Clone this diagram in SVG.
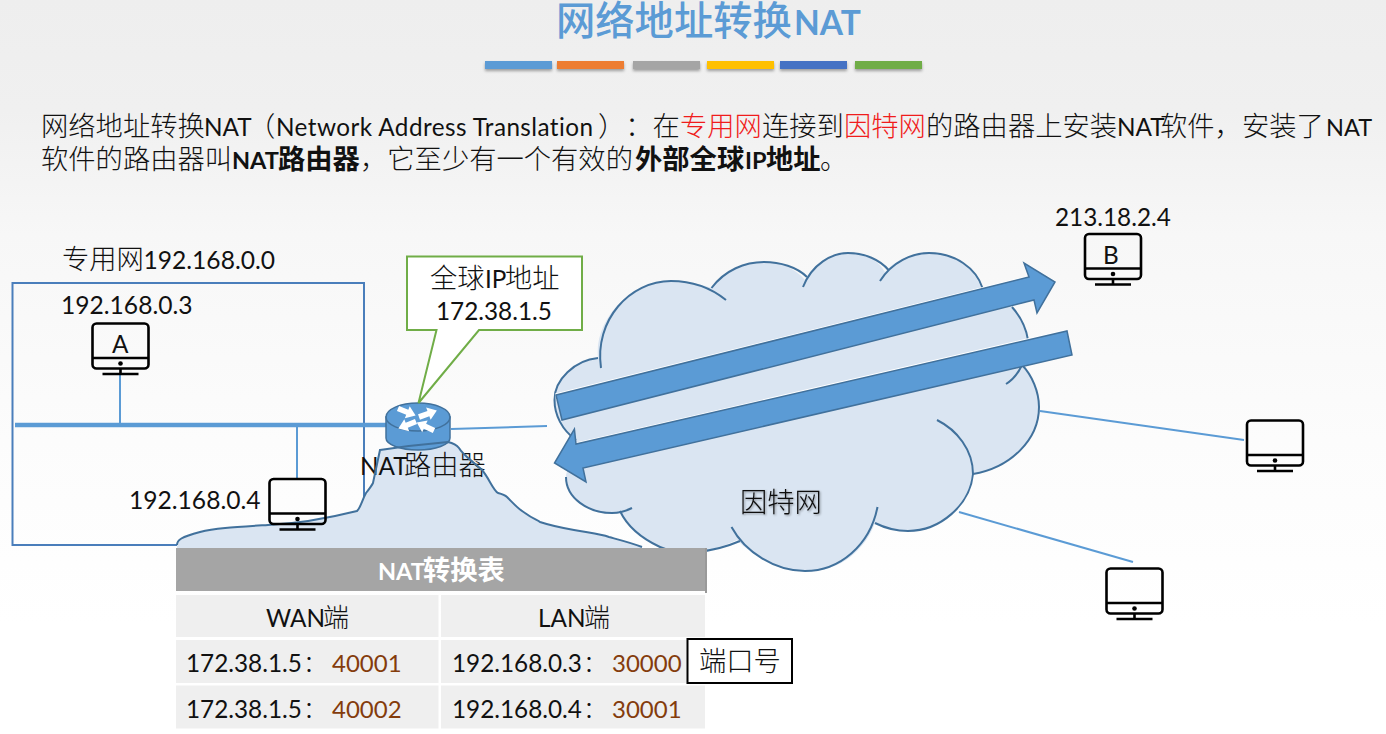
<svg xmlns="http://www.w3.org/2000/svg" xmlns:xlink="http://www.w3.org/1999/xlink" width="1386" height="734" viewBox="0 0 1386 734">
<style>
text{font-family:"Noto Sans CJK SC","Lato",sans-serif;font-size:27.3px;fill:#111;text-spacing-trim:space-all;font-weight:300}
.m{fill:#111;font-family:"Lato",sans-serif;font-size:24.3px;font-weight:400}
.b{font-weight:700}
.m.b{font-size:23.500px;font-weight:700}
.r{fill:#f01c1c}
.p{fill:#843c0c;font-family:"Lato",sans-serif;font-size:24px;font-weight:400}
.bar{filter:url(#sh)}
.wire{stroke:#5b9bd5;fill:none;stroke-width:2}
.cl{fill:none;stroke:#41719c;stroke-width:2}
.hi{fill:#fff}
.arr{fill:#5b9bd5;stroke:#41719c;stroke-width:1.5}
.mon rect,.mon path{fill:none;stroke:#000;stroke-width:2.6}
.cell{fill:#efefef}
</style>
<defs>
<linearGradient id="bg" x1="0" y1="0" x2="0" y2="1">
<stop offset="0" stop-color="#eeeeee"/><stop offset="0.15" stop-color="#f0f0f0"/><stop offset="0.32" stop-color="#f7f7f7"/><stop offset="0.6" stop-color="#fcfcfc"/><stop offset="0.85" stop-color="#ffffff"/>
</linearGradient>
<filter id="sh" x="-10%" y="-50%" width="120%" height="220%"><feDropShadow dx="0" dy="2" stdDeviation="1.5" flood-color="#000" flood-opacity="0.35"/></filter>
<filter id="ts" x="-10%" y="-10%" width="120%" height="120%"><feDropShadow dx="1" dy="1" stdDeviation="0.8" flood-color="#000" flood-opacity="0.4"/></filter>
<g id="mon" class="mon">
<rect x="1" y="1" width="56" height="45" rx="4"/>
<path d="M1,35.5H57M29,46V51M11,51.5H47"/>
<circle cx="29" cy="41" r="2.3" fill="#000"/>
</g>
<path id="ra" d="M0,-2.8H10V-6.5L19,0L10,6.5V2.8H0Z" fill="#fff"/>
<path id="mt" d="M177,545C177,540 181,537 200,532C215,528 235,527 268,525C290,524 325,519 357,511C361,507 362,500 366,493C370,488 372,485 373,483L380,450C400,447 425,444 448,442C453,443 456,444 459,448C463,455 470,459 482,470C489,478 493,490 498,493C502,494 505,495 507,497C513,503 518,509 525,513C533,519 538,520 540,522C552,526 563,528 574,530C590,533 600,534 609,537C620,540 632,543 642,547L642,548L177,548Z"/>
</defs>
<rect id="background" width="1386" height="734" fill="url(#bg)"/>

<g id="title">
<text x="556" y="35" style="font-size:39.3px;fill:#5b9bd5;font-weight:500">网络地址转换<tspan x="794" y="35" style="font-family:Lato,sans-serif;font-weight:700;font-size:33.500px;fill:#5b9bd5">NAT</tspan></text>
<rect class="bar" x="485" y="61" width="67" height="8" fill="#5b9bd5"/>
<rect class="bar" x="557" y="61" width="67" height="8" fill="#ed7d31"/>
<rect class="bar" x="633" y="61" width="67" height="8" fill="#a5a5a5"/>
<rect class="bar" x="707" y="61" width="67" height="8" fill="#ffc000"/>
<rect class="bar" x="780" y="61" width="67" height="8" fill="#4472c4"/>
<rect class="bar" x="855" y="61" width="67" height="8" fill="#70ad47"/>
</g>

<g id="intro">
<text y="135.500"><tspan x="41">网络地址转换</tspan><tspan class="m" x="204">NAT</tspan><tspan x="248">（</tspan><tspan class="m" x="276" style="letter-spacing:.42px">Network Address Translation</tspan><tspan x="598">）：在</tspan><tspan class="r" x="680">专用网</tspan><tspan x="762">连接到</tspan><tspan class="r" x="844">因特网</tspan><tspan x="926">的路由器上安装</tspan><tspan class="m" x="1117">NAT</tspan><tspan x="1160">软件，安装了</tspan><tspan class="m" x="1326" style="font-size:23.500px">NAT</tspan></text>
<text y="169"><tspan x="41">软件的路由器叫</tspan><tspan class="m b" x="232">NAT</tspan><tspan class="b" x="278">路由器</tspan><tspan x="360">，它至少有一个有效的</tspan><tspan class="b" x="635">外部全球</tspan><tspan class="m b" x="745">IP</tspan><tspan class="b" x="766">地址</tspan><tspan x="820">。</tspan></text>
</g>

<g id="private-net">
<rect x="12.500" y="283" width="351.500" height="262" fill="none" stroke="#4a7ebb" stroke-width="2"/>
<text x="62" y="269">专用网<tspan class="m" x="143.500" style="font-size:24.600px">192.168.0.0</tspan></text>
</g>

<g id="connectors">
<path d="M15,425H387" stroke="#5b9bd5" stroke-width="4.500" fill="none"/>
<path class="wire" d="M120,373V425"/>
<path class="wire" d="M297,425V478"/>
<path class="wire" d="M451,429L547,426"/>
<path class="wire" d="M1040,411L1244,440"/>
<path class="wire" d="M959,512L1133,562"/>
</g>

<g id="mountain">
<use xlink:href="#mt" href="#mt" fill="#dae5f2"/>
</g>

<g id="nat-router">
<path d="M386,417V438A32,12 0 0 0 450,438V417Z" fill="#5b9bd5" stroke="#41719c" stroke-width="1.500"/>
<ellipse cx="418" cy="417" rx="32" ry="14" fill="#5b9bd5" stroke="#41719c" stroke-width="1.500"/>
<use xlink:href="#ra" href="#ra" transform="translate(398,408.500) rotate(22)"/>
<use xlink:href="#ra" href="#ra" transform="translate(419,417) rotate(-20)"/>
<use xlink:href="#ra" href="#ra" transform="translate(416,421.500) rotate(158)"/>
<use xlink:href="#ra" href="#ra" transform="translate(434,430.500) rotate(205)"/>
<text y="475"><tspan class="m" x="360">NAT</tspan><tspan x="404">路由器</tspan></text>
</g>
<path id="mountain-outline" d="M177,545C177,540 181,537 200,532C215,528 235,527 268,525C290,524 325,519 357,511C361,507 362,500 366,493C370,488 372,485 373,483L380,450C400,447 425,444 448,442C453,443 456,444 459,448C463,455 470,459 482,470C489,478 493,490 498,493C502,494 505,495 507,497C513,503 518,509 525,513C533,519 538,520 540,522C552,526 563,528 574,530C590,533 600,534 609,537C620,540 632,543 642,547" fill="none" stroke="#41719c" stroke-width="2"/>

<g id="callout">
<path d="M407,256.500H582V330H479L418.500,403L436.500,330H407Z" fill="#fff" stroke="#70ad47" stroke-width="2"/>
<text y="288"><tspan x="430">全球</tspan><tspan class="m" x="485">IP</tspan><tspan x="505">地址</tspan></text>
<text class="m" x="436" y="320">172.38.1.5</text>
</g>

<g id="internet">
<path fill="#dae5f2" d="M554.500,400C554,380 575,360 598,358C594,320 630,281 671,281C685,281 700,284 711.500,288C725,270 745,262 764,262C780,262 795,268 805,280C815,262 832,253 848,253C865,253 878,260 885,272C895,260 912,253 929,253C955,253 975,268 982,290L1012,307C1022,318 1028,330 1028,345L1022,365C1032,375 1039,392 1039,407C1039,440 1010,468 973,474C970,505 940,531 908,531C895,531 885,528 875,523C865,550 840,571 810,571C780,571 755,558 737,540C710,553 680,556 660,547C645,540 628,528 620,511C615,513 612,513 610,513C585,513 566,495 566,475L576,440C562,430 554.500,415 554.500,400Z"/>
<path class="cl" d="M598,358C575,360 554,380 554.500,400C554.500,415 562,430 576,440"/>
<path class="cl" d="M601,368C594,320 630,281 671,281C692,281 711,288 726,300"/>
<path class="cl" d="M711.500,288C725,270 745,262 764,262C780,262 797,267 807,277"/>
<path class="cl" d="M803,287C812,264 832,253 848,253C865,253 880,260 888.500,270"/>
<path class="cl" d="M880,281C892,262 912,253 929,253C955,253 976,268 982.500,288"/>
<path class="cl" d="M1012,307C1020,316 1026,327 1028,340"/>
<path class="cl" d="M1006,384Q1016,378 1022,365C1032,375 1039,392 1039,407C1039,440 1010,468 973,474"/>
<path class="cl" d="M937,420C957,430 973,450 973,474C970,505 940,531 908,531C895,531 885,528 875,523"/>
<path class="cl" d="M877.500,507C870,545 840,571 805,571C775,571 745,552 731.500,527"/>
<path class="cl" d="M740,541C712,553 680,556 660,547C645,540 628,528 620,511"/>
<path class="cl" d="M632,508Q622,513 612,513C588,513 566,498 566,477"/>
<text x="740" y="512" filter="url(#ts)">因特网</text>
</g>

<g id="traffic-arrows">
<path class="hi" d="M555,393.500L1029,275.500L1023,261.500L1056,281L1040,300L556,400Z"/>
<path class="arr" d="M556,395L1029,277L1024,263L1055,282L1037,313L1034,300L562,420Z"/>
<path class="hi" d="M576,442.500L1066,329.500L1068,340L585,450L574,446Z"/>
<path class="arr" d="M1067,331L1072,355L583,468L586,482L554.500,463L574.400,429L576,444Z"/>
</g>

<g id="host-a"><use xlink:href="#mon" href="#mon" x="91.500" y="322.500"/><text class="m" x="61" y="314" style="font-size:24.600px">192.168.0.3</text><text class="m" x="112" y="353">A</text></g>
<g id="host-c"><use xlink:href="#mon" href="#mon" x="268.500" y="478"/><text class="m" x="129" y="509" style="font-size:24.600px">192.168.0.4</text></g>
<g id="host-b"><use xlink:href="#mon" href="#mon" x="1084" y="233"/><text class="m" x="1055" y="226">213.18.2.4</text><text class="m" x="1103" y="264">B</text></g>
<g id="host-d"><use xlink:href="#mon" href="#mon" x="1246" y="419.500"/></g>
<g id="host-e"><use xlink:href="#mon" href="#mon" x="1105.500" y="567.500"/></g>

<g id="nat-table">
<rect x="176" y="548" width="529" height="43" fill="#a5a5a5"/>
<rect x="705" y="548" width="2" height="45" fill="#999"/>
<rect class="cell" x="176" y="595" width="262.500" height="42"/><rect class="cell" x="441" y="595" width="264" height="42"/>
<rect class="cell" x="176" y="640" width="262.500" height="43"/><rect class="cell" x="441" y="640" width="264" height="43"/>
<rect class="cell" x="176" y="685.500" width="262.500" height="43"/><rect class="cell" x="441" y="685.500" width="264" height="43"/>
<text y="580" style="fill:#fff;font-weight:700"><tspan x="378" style="font-family:Lato,sans-serif;font-size:23.500px;fill:#fff">NAT</tspan><tspan x="423">转换表</tspan></text>
<text y="627" style="font-size:26px"><tspan class="m" x="266">WAN</tspan><tspan x="323">端</tspan></text>
<text y="627" style="font-size:26px"><tspan class="m" x="538">LAN</tspan><tspan x="584">端</tspan></text>
<text y="672"><tspan class="m" x="186">172.38.1.5</tspan><tspan x="303" style="font-size:24px">：</tspan><tspan class="p" x="332">40001</tspan></text>
<text y="672"><tspan class="m" x="452">192.168.0.3</tspan><tspan x="583" style="font-size:24px">：</tspan><tspan class="p" x="612">30000</tspan></text>
<text y="718"><tspan class="m" x="186">172.38.1.5</tspan><tspan x="303" style="font-size:24px">：</tspan><tspan class="p" x="332">40002</tspan></text>
<text y="718"><tspan class="m" x="452">192.168.0.4</tspan><tspan x="583" style="font-size:24px">：</tspan><tspan class="p" x="612">30001</tspan></text>
</g>

<g id="port-label">
<rect x="687.500" y="639" width="104.500" height="44" fill="#fff" stroke="#000" stroke-width="2"/>
<text x="699" y="671">端口号</text>
</g>
</svg>
